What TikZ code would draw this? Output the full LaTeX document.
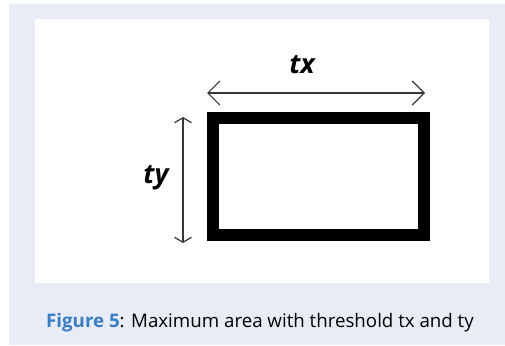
\documentclass[tikz,border=0pt]{standalone}
\usepackage{fontspec}
\setmainfont{Open Sans}
\usepackage{tikz}
\usetikzlibrary{arrows.meta,positioning}
\definecolor{panelbg}{RGB}{231,236,246}
\definecolor{capblue}{RGB}{59,125,196}
\definecolor{dimgrey}{RGB}{55,55,55}

\begin{document}
\begin{tikzpicture}[
    x=1pt, y=-1pt,
    areabox/.style={draw=black, line width=12pt, minimum width=211.5pt, minimum height=117pt, inner sep=0pt},
    dimline/.style={draw=dimgrey, line width=1.2pt},
    dimlabel/.style={font=\fontsize{27}{27}\selectfont\bfseries\itshape, inner sep=0pt},
]
    \useasboundingbox (0,0) rectangle (505,345);
    \fill[white] (0,0) rectangle (505,345);
    \fill[panelbg] (9,4) rectangle (505,345);
    \fill[white] (35,19) rectangle (489,283);
    % the area
    \node[areabox] (area) at (318.25,176.5) {};
    % threshold tx
    \coordinate (tx-l) at (207,93);
    \coordinate (tx-r) at (425,93);
    \draw[dimline, {Straight Barb[length=12pt,width=24pt]}-{Straight Barb[length=12pt,width=24pt]}] (tx-l) -- (tx-r);
    \node[dimlabel] (tx) at (302,65) {tx};
    % threshold ty
    \coordinate (ty-t) at (183,117);
    \coordinate (ty-b) at (183,243);
    \draw[dimline, {Straight Barb[length=5pt,width=17pt]}-{Straight Barb[length=5pt,width=17pt]}] (ty-t) -- (ty-b);
    \node[dimlabel] (ty) at (156,178) {ty};
    % caption
    \node[anchor=base west, inner sep=0pt, font=\fontsize{18.7}{20}\selectfont] (caption) at (46,327)
        {\textcolor{capblue}{\bfseries Figure 5}: Maximum area with threshold tx and ty};
\end{tikzpicture}
\end{document}
